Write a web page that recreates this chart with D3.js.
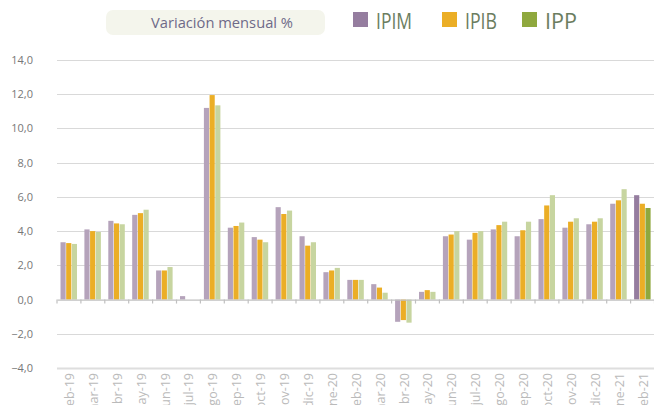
<!DOCTYPE html>
<html><head><meta charset="utf-8">
<script src="https://cdn.jsdelivr.net/npm/d3@7"></script>
<style>html,body{margin:0;padding:0;background:#fff;overflow:hidden}svg{display:block}</style>
</head><body>
<svg id="c" width="654" height="405"></svg>
<script>
const categories = ["feb-19","mar-19","abr-19","may-19","jun-19","jul-19","ago-19","sep-19","oct-19","nov-19","dic-19","ene-20","feb-20","mar-20","abr-20","may-20","jun-20","jul-20","ago-20","sep-20","oct-20","nov-20","dic-20","ene-21","feb-21"];
const seriesNames = ["IPIM","IPIB","IPP"];
const ipim = [3.35,4.1,4.6,4.95,1.7,0.2,11.2,4.2,3.65,5.4,3.7,1.6,1.15,0.9,-1.3,0.45,3.7,3.5,4.1,3.7,4.7,4.2,4.4,5.6,6.1];
const ipib = [3.3,4.0,4.45,5.05,1.7,0.0,11.95,4.3,3.5,5.0,3.15,1.7,1.15,0.7,-1.2,0.55,3.8,3.9,4.35,4.05,5.5,4.55,4.55,5.8,5.6];
const ipp  = [3.25,3.95,4.4,5.25,1.9,0.0,11.35,4.5,3.35,5.2,3.35,1.85,1.15,0.4,-1.35,0.45,4.0,4.0,4.55,4.55,6.1,4.75,4.75,6.45,5.35];
const yTicks = [-4,-2,0,2,4,6,8,10,12,14];
const legendTitle = "Variación mensual %";

const seriesValues = [ipim, ipib, ipp];
const fadedColors = ["#b5a3bb","#ebae26","#c7d5a0"];
const strongColors = ["#957d9f","#ebae26","#8fa83e"];
const legendTextLen = [36, 32, 32];

const svg = d3.select("#c");
const x0 = d3.scaleBand().domain(categories).range([57, 654.5]).padding(0);
const x1 = d3.scaleBand().domain(seriesNames).range([3.5, 20]).paddingInner(0.09);
const y = d3.scaleLinear().domain([-4, 14]).range([368, 60]);

// gridlines
const grid = svg.append("g");
yTicks.forEach(t => {
  if (t === 0) return;
  grid.append("line")
    .attr("x1", 57).attr("x2", 654)
    .attr("y1", Math.round(y(t)) + 0.5).attr("y2", Math.round(y(t)) + 0.5)
    .attr("stroke", t === -4 ? "#dedede" : "#d9d9d9")
    .attr("stroke-width", t === -4 ? 2 : 1.2);
});

// y axis labels
const yAxis = d3.axisLeft(y).tickValues(yTicks).tickSize(0).tickPadding(0)
  .tickFormat(d => d3.format(".1f")(d).replace(".", ","));
const ya = svg.append("g").attr("transform", "translate(33,0)").call(yAxis);
ya.select(".domain").remove();
ya.selectAll("text").attr("fill", "#777").style("font-family", "'Open Sans', sans-serif").style("font-size", "11px");

// bars
const groups = svg.append("g").selectAll("g").data(categories).join("g")
  .attr("transform", d => `translate(${x0(d)},0)`);
groups.selectAll("rect").data((c, ci) => seriesNames.map((s, si) => ({s, si, ci, v: seriesValues[si][ci]})))
  .join("rect")
  .attr("x", d => x1(d.s))
  .attr("width", x1.bandwidth())
  .attr("y", d => y(Math.max(0, d.v)))
  .attr("height", d => Math.abs(y(d.v) - y(0)))
  .attr("fill", d => d.ci === categories.length - 1 ? strongColors[d.si] : fadedColors[d.si]);

// zero axis with ticks at category boundaries
const xAxis = d3.axisBottom(x0).tickSize(0).tickFormat("");
const xa = svg.append("g").attr("transform", `translate(0,${y(0)})`).call(xAxis);
xa.select(".domain").attr("stroke", "#c0c0c0").attr("stroke-width", 1.2);
xa.selectAll(".tick").remove();
const bounds = categories.map(c => x0(c)).concat([x0.range()[1]]);
xa.selectAll("line.b").data(bounds).join("line").attr("class", "b")
  .attr("x1", d => d).attr("x2", d => d).attr("y1", 0).attr("y2", 4)
  .attr("stroke", "#c0c0c0").attr("stroke-width", 1.2);

// x labels (rotated, clipped by bottom edge as in the reference)
svg.append("g").selectAll("text").data(categories).join("text")
  .attr("transform", d => `translate(${x0(d) + x0.bandwidth() / 2 + 5},373) rotate(-90)`)
  .attr("text-anchor", "end")
  .attr("fill", "#bababa")
  .style("font-family", "'Open Sans', sans-serif").style("font-size", "12.5px")
  .text(d => d);

// legend title box
svg.append("rect").attr("x", 106).attr("y", 10).attr("width", 219).attr("height", 25)
  .attr("rx", 7).attr("fill", "#f4f5ec");
svg.append("text").attr("x", 222).attr("y", 28).attr("text-anchor", "middle")
  .attr("fill", "#6e6a88").style("font-family", "'Open Sans', sans-serif").style("font-size", "15px")
  .attr("textLength", 142).attr("lengthAdjust", "spacingAndGlyphs")
  .text(legendTitle);

// legend items
const legendX = [353, 442, 522];
const lg = svg.append("g").selectAll("g").data(seriesNames).join("g")
  .attr("transform", (d, i) => `translate(${legendX[i]},12)`);
lg.append("rect").attr("width", 15).attr("height", 15).attr("fill", (d, i) => strongColors[i]);
lg.append("text").attr("x", 23).attr("y", 16.5).attr("fill", "#6b7d5f")
  .style("font-family", "'Open Sans', sans-serif").style("font-size", "21px")
  .attr("textLength", (d, i) => legendTextLen[i]).attr("lengthAdjust", "spacingAndGlyphs")
  .text(d => d);
</script>
</body></html>
